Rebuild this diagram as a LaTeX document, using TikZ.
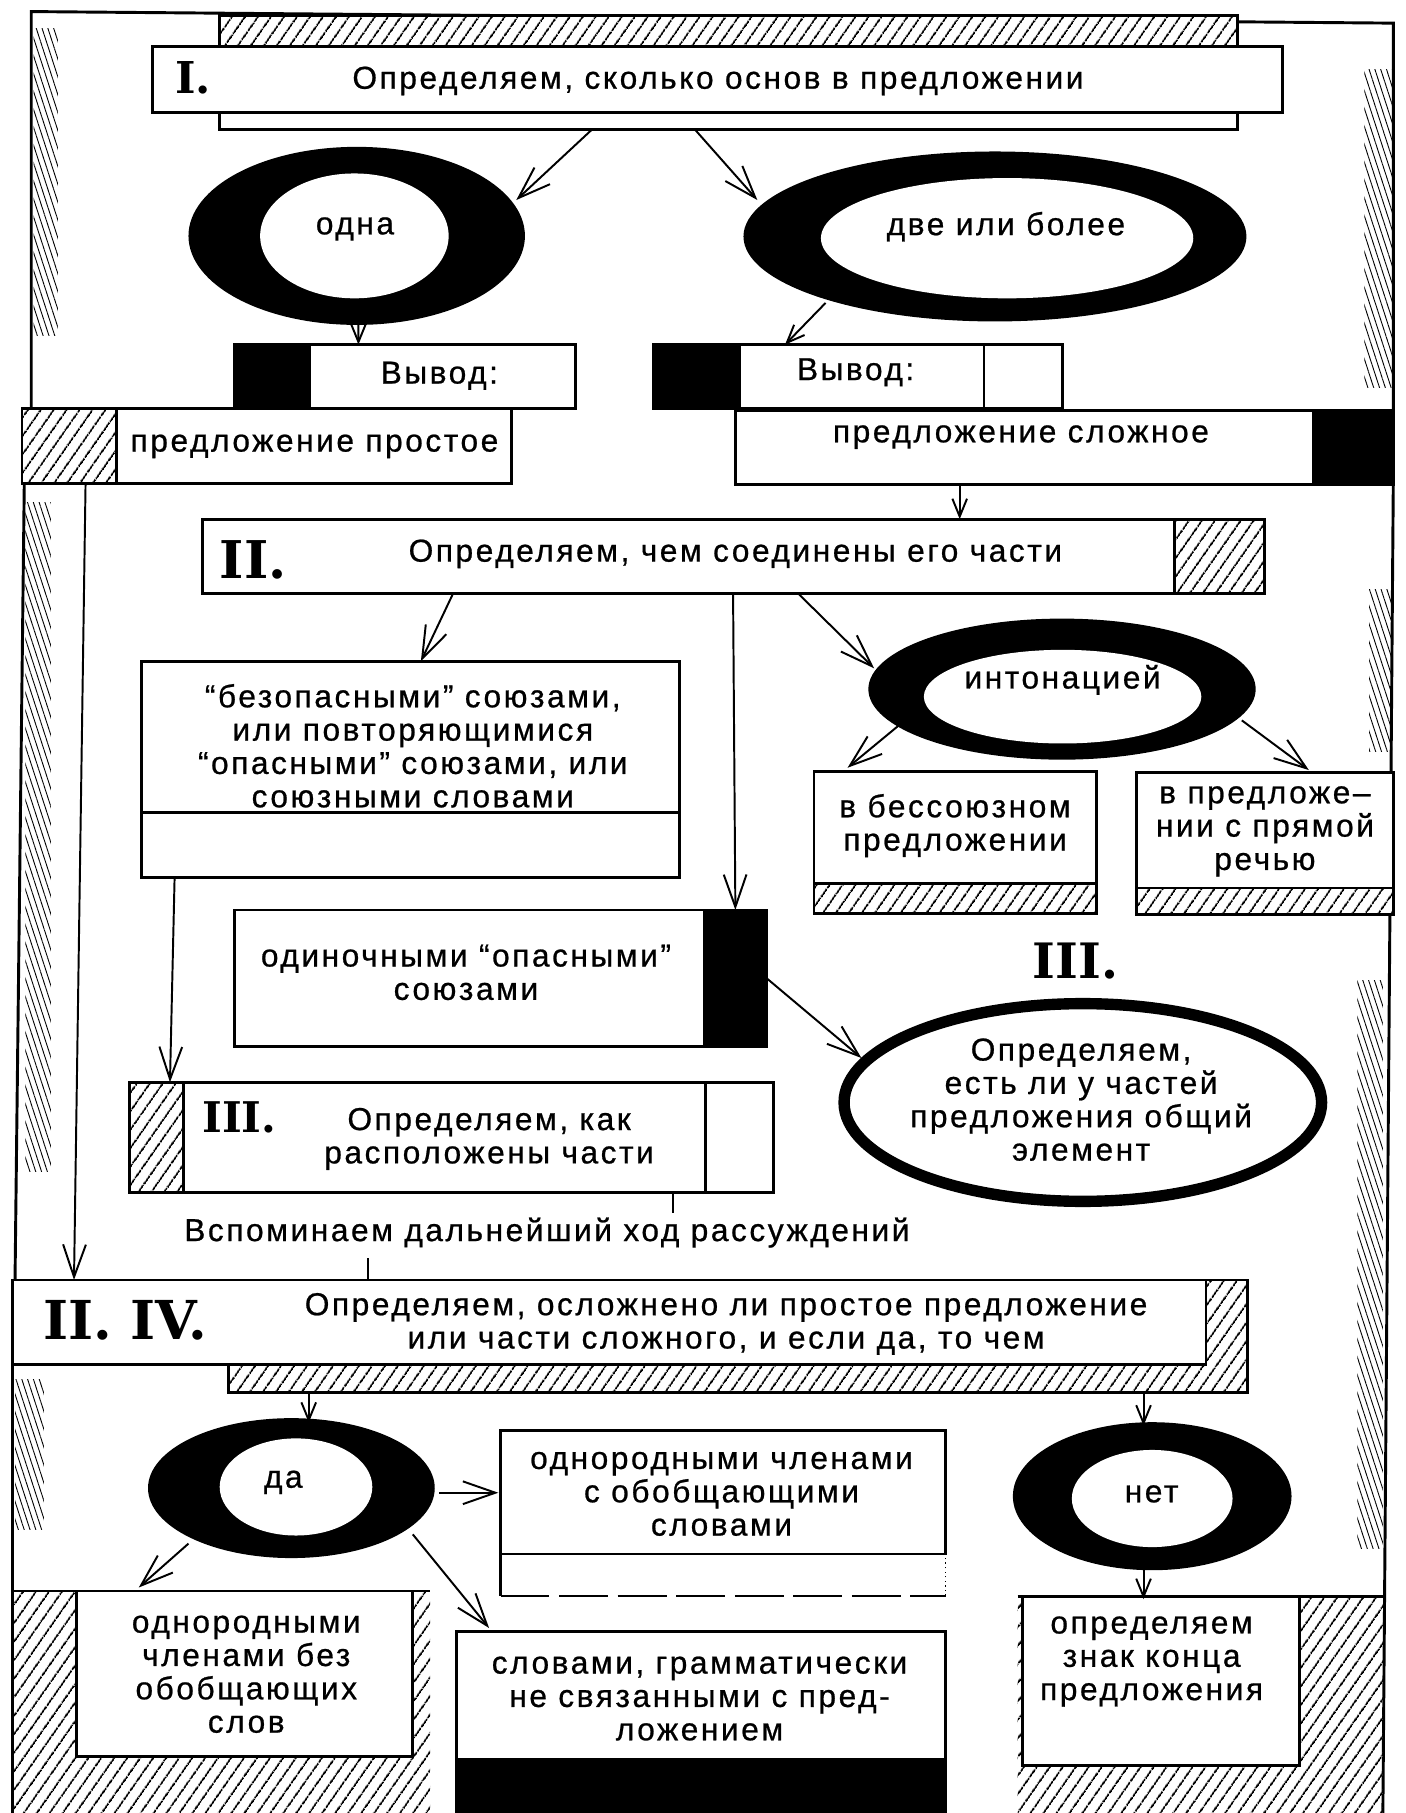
\documentclass[tikz,border=0pt]{standalone}
\usepackage{fontspec}
\setmainfont{Liberation Sans}[LetterSpace=8,FakeBold=0.7]
\newfontfamily\numfont{DejaVu Serif}
\usetikzlibrary{arrows.meta,shapes.geometric,patterns.meta,calc}
\newcommand\mainsz{\fontsize{19.5}{20.5}\selectfont}
\newcommand\mkbox[6]{\node[#6, minimum width={(#4-#2)*0.025cm}, minimum height={(#5-#3)*0.025cm}] (#1) at ({(#2+#4)/2},{(#3+#5)/2}) {};}
\newcommand\mkell[6]{\node[#6, minimum width={#4*0.025cm}, minimum height={#5*0.025cm}] (#1) at (#2,#3) {};}
\tikzset{
  box/.style={draw, line width=1.8pt, fill=white, rectangle, inner sep=0pt, outer sep=0pt},
  blk/.style={draw, fill=black, line width=1.8pt, rectangle, inner sep=0pt, outer sep=0pt},
  hatbox/.style={draw, line width=1.8pt, rectangle, inner sep=0pt, outer sep=0pt, pattern={Lines[angle=55,distance=6.5pt,line width=1.1pt]}},
  hat/.style={pattern={Lines[angle=55,distance=6.5pt,line width=1.1pt]}},
  ehat/.style={pattern={Lines[angle=108,distance=3.4pt,line width=0.55pt]}},
  ring/.style={ellipse, fill=black, inner sep=0pt, outer sep=0pt},
  hole/.style={ellipse, fill=white, inner sep=0pt, outer sep=0pt},
  ringline/.style={ellipse, draw, fill=white, line width=7pt, inner sep=0pt, outer sep=0pt},
  txt/.style={align=center, inner sep=0pt, font=\mainsz},
  num/.style={inner sep=0pt, font=\numfont\bfseries\fontsize{#1}{#1}\selectfont},
  arr/.style={line width=1.2pt, -{Straight Barb[length=20pt,width=14pt]}},
  arrs/.style={line width=1.2pt, -{Straight Barb[length=11pt,width=9pt]}},
  conn/.style={line width=1.4pt},
  bline/.style={line width=1.8pt},
  frame/.style={line width=1.8pt}
}
\begin{document}
\begin{tikzpicture}[x=0.025cm,y=-0.025cm,line join=miter]
\useasboundingbox (0,0) rectangle (1216,1568);
\fill[white] (0,0) rectangle (1216,1568);

% edge hatching
\path[ehat] (29,25) rectangle (50,290);
\path[ehat] (22,435) rectangle (44,1013);
\path[ehat] (13,1193) rectangle (38,1323);
\path[ehat] (1180,60) rectangle (1204,335);
\path[ehat] (1184,510) rectangle (1204,650);
\path[ehat] (1174,848) rectangle (1196,1339);

% frame
\draw[frame] (27,353) -- (27,10) -- (1205,20) -- (1205,355);
\draw[frame] (21,418) -- (13,1107);
\draw[frame] (11,1180) -- (11,1568);
\draw[frame] (1205,419) -- (1196,1568);

% ---- I ----
\mkbox{Iback}{190}{13}{1070}{112}{box}
\mkbox{Ihat}{190}{13}{1070}{40}{hatbox}
\mkbox{I}{132}{40}{1109}{97}{box}
\node[num=27] (Inum) at (167,67) {I.};
\node[txt] (It) at (621,70) {Определяем, сколько основ в предложении};

\mkell{odna}{308.5}{204}{291}{154}{ring}
\mkell{odnaIn}{306.5}{204}{163}{108}{hole}
\node[txt] (odnaT) at (307,198) {одна};
\mkell{dve}{860.5}{204.5}{435}{147}{ring}
\mkell{dveIn}{871}{206}{322}{104}{hole}
\node[txt] (dveT) at (870,196) {две или более};

\draw[arr] ($(Iback.south)+(-118,0)$) -- ($(odna.center)+(138,-31)$);
\draw[arr] ($(Iback.south)+(-29,0)$) -- ($(dve.center)+(-205.5,-31.5)$);

\mkbox{vyvL}{203}{298}{498}{353}{box}
\mkbox{vyvLb}{203}{298}{268}{353}{blk}
\node[txt] (vyvLt) at (380,325) {Вывод:};
\mkbox{vyvR}{565}{298}{919}{353}{box}
\mkbox{vyvRb}{565}{298}{640}{353}{blk}
\draw[bline] ($(vyvR.north west)+(286,0)$) -- ($(vyvR.south west)+(286,0)$);
\node[txt] (vyvRt) at (740,322) {Вывод:};
\draw[arrs] ($(odna.south)+(1.5,-3)$) -- ($(vyvL.north west)+(107,0)$);
\draw[arrs] ($(dve.center)+(-146.5,57.5)$) -- ($(vyvR.north west)+(114,0)$);

\mkbox{prost}{19}{353}{442}{418}{box}
\mkbox{prosth}{19}{353}{101}{418}{hatbox}
\node[txt] (prostt) at (272,386) {предложение простое};
\mkbox{slozh}{636}{355}{1205}{419}{box}
\mkbox{slozhb}{1136}{355}{1205}{419}{blk}
\node[txt] (slozht) at (883,378) {предложение сложное};

% ---- II ----
\mkbox{II}{175}{449}{1094}{513}{box}
\mkbox{IIh}{1016}{449}{1094}{513}{hatbox}
\node[num=32] (IInum) at (219,484) {II.};
\node[txt] (IIt) at (636,479) {Определяем, чем соединены его части};
\draw[arrs] ($(slozh.south west)+(194,0)$) -- ($(II.north west)+(655,0)$);

\mkbox{bez}{122}{572}{588}{759}{box}
\draw[bline] ($(bez.south west)+(0,-56)$) -- ($(bez.south east)+(0,-56)$);
\node[txt] (bezt) at (357,645) {“безопасными” союзами,\\или повторяющимися\\“опасными” союзами, или\\союзными словами};

\mkell{inton}{918.5}{596}{335}{122}{ring}
\mkell{intonIn}{919}{602.5}{240}{81}{hole}
\node[txt] (intont) at (919,588) {интонацией};

\mkbox{bess}{704}{667}{948}{790}{box}
\mkbox{bessh}{704}{764}{948}{790}{hatbox}
\node[txt] (besst) at (826,714) {в бессоюзном\\предложении};
\mkbox{pryam}{983}{668}{1205}{791}{box}
\mkbox{pryamh}{983}{768}{1205}{791}{hatbox}
\node[txt] (pryamt) at (1094,719) {в предложе–\\нии с прямой\\речью};

\mkbox{odin}{203}{787}{663}{905}{box}
\mkbox{odinb}{609}{787}{663}{905}{blk}
\node[txt] (odint) at (403,841) {одиночными “опасными”\\союзами};

\mkell{IIIe}{936.5}{953.5}{413}{171}{ringline}
\node[num=30] (IIInum) at (930,831) {III.};
\node[txt] (IIIet) at (935,951) {Определяем,\\есть ли у частей\\предложения общий\\элемент};

\mkbox{IIIb}{112}{936}{669}{1031}{box}
\mkbox{IIIbh}{112}{936}{159}{1031}{hatbox}
\draw[bline] ($(IIIb.north west)+(498,0)$) -- ($(IIIb.south west)+(498,0)$);
\node[num=26] (IIIbnum) at (207,966) {III.};
\node[txt] (IIIbt) at (423,985) {Определяем, как\\расположены части};

\draw[arr] ($(II.south west)+(217,0)$) -- ($(bez.north west)+(242,0)$);
\draw[arr] ($(II.south west)+(459,0)$) -- (odinb.north);
\draw[arr] ($(II.south west)+(515,0)$) -- ($(inton.center)+(-162.5,-18)$);
\draw[arr] ($(inton.center)+(-139.5,30)$) -- ($(bess.north west)+(29,-3)$);
\draw[arr] ($(inton.center)+(155.5,27)$) -- ($(pryam.north west)+(149,-2)$);
\draw[arr] ($(bez.south west)+(29,0)$) -- ($(IIIb.north west)+(35,0)$);
\draw[arr] (odinb.east) -- ($(IIIe.center)+(-191.5,-38.5)$);

\coordinate (tick1) at (582,1049);
\draw[conn] ($(IIIb.south west)+(470,0)$) -- (tick1);
\node[txt] (vsp) at (473,1066) {Вспоминаем дальнейший ход рассуждений};

% ---- II. IV. ----
\mkbox{IVback}{198}{1107}{1079}{1204}{hatbox}
\mkbox{IV}{11}{1107}{1043}{1180}{box}
\node[num=33] (IVnum) at (108,1142) {II. IV.};
\node[txt] (IVt) at (628,1145) {Определяем, осложнено ли простое предложение\\или части сложного, и если да, то чем};
\coordinate (tick2) at (318,1088);
\draw[conn] (tick2) -- ($(IV.north west)+(307,0)$);
\draw[arr] ($(prost.south west)+(55,0)$) -- ($(IV.north west)+(53,0)$);

\mkell{da}{252}{1287}{248}{121}{ring}
\mkell{daIn}{256}{1286}{132}{84}{hole}
\node[txt] (dat) at (245,1282) {да};
\mkell{net}{996.5}{1294}{241}{128}{ring}
\mkell{netIn}{996.5}{1296}{139}{84}{hole}
\node[txt] (nett) at (996,1292) {нет};
\draw[arrs] ($(IVback.south west)+(69,0)$) -- ($(da.north)+(15,4)$);
\draw[arrs] ($(IVback.south west)+(791,0)$) -- ($(net.north)+(-7.5,3)$);

\mkbox{obob}{433}{1237}{818}{1344}{box}
\draw[bline] (obob.south west) -- ($(obob.south west)+(0,36)$);
\draw[line width=1.2pt, dash pattern=on 30pt off 6pt] ($(obob.south west)+(0,36)$) -- ($(obob.south east)+(0,36)$);
\draw[line width=0.8pt, dotted] ($(obob.south east)+(0,36)$) -- (obob.south east);
\node[txt] (obobt) at (624,1292) {однородными членами\\с обобщающими\\словами};

\path[hat] (12,1376) rectangle (372,1575);
\draw[bline] (11,1376) -- (372,1376);
\mkbox{odnb}{66}{1376}{357}{1519}{box}
\node[txt] (odnbt) at (213,1448) {однородными\\членами без\\обобщающих\\слов};

\mkbox{slov}{395}{1411}{818}{1575}{box}
\mkbox{slovb}{395}{1522}{818}{1575}{blk}
\node[txt] (slovt) at (605,1469) {словами, грамматически\\не связанными с пред-\\ложением};

\path[hat] (880,1381) rectangle (1196,1575);
\draw[bline] (880,1381) -- (1196,1381);
\mkbox{knz}{884}{1381}{1124}{1527}{box}
\node[txt] (knzt) at (996,1437) {определяем\\знак конца\\предложения};

\draw[arr] ($(da.center)+(128,4)$) -- ($(obob.north west)+(-2,54)$);
\draw[arr] ($(da.center)+(-89,48)$) -- ($(odnb.north west)+(54,-3)$);
\draw[arr] ($(da.center)+(105,40)$) -- ($(slov.north west)+(28,-3)$);
\draw[arrs] ($(net.south)+(-7.5,0)$) -- ($(knz.north west)+(105,2)$);
\end{tikzpicture}
\end{document}
